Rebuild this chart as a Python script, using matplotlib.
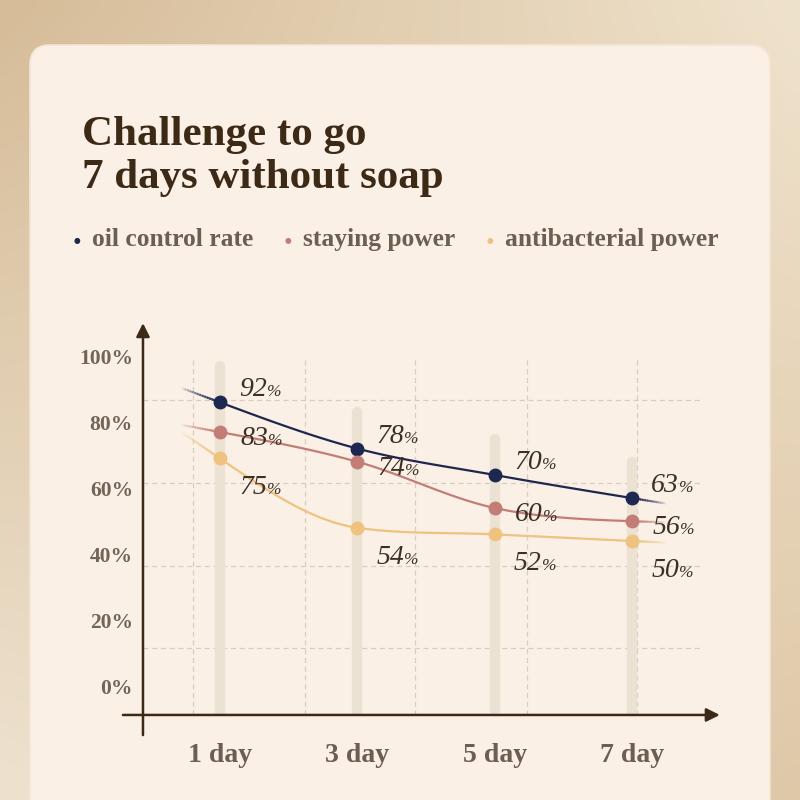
import numpy as np
import matplotlib
matplotlib.use("Agg")
import matplotlib.pyplot as plt
from matplotlib import transforms
from matplotlib.patches import FancyBboxPatch
from matplotlib.collections import LineCollection
from matplotlib.colors import to_rgba

# ---- data ----
days = ["1 day", "3 day", "5 day", "7 day"]
oil_control = [92, 78, 70, 63]
staying_power = [83, 74, 60, 56]
antibacterial = [75, 54, 52, 50]
series_names = ["oil control rate", "staying power", "antibacterial power"]
y_ticks = [0, 20, 40, 60, 80, 100]

# ---- style ----
SERIF = ["Liberation Serif", "DejaVu Serif"]
NAVY = "#1e2750"
ROSE = "#c47d76"
GOLD = "#efc27f"
BROWN = "#3d2a16"
GREY = "#6b5e52"
CARD = "#faf0e6"
PILLAR = "#ece2d4"
GRID = "#d8cdc0"

series = [
    (oil_control, NAVY, (47, -6)),
    (staying_power, ROSE, (48, 13)),
    (antibacterial, GOLD, (47, 36)),
]


def smooth_curve(xs, ys, num=40):
    """cubic hermite through the points with limited tangents (no overshoot)"""
    xs = np.asarray(xs, float)
    ys = np.asarray(ys, float)
    delta = np.diff(ys) / np.diff(xs)
    n = len(xs)
    d = np.zeros(n)
    for k in range(1, n - 1):
        if delta[k - 1] * delta[k] > 0:
            m = 0.5 * (delta[k - 1] + delta[k])
            lim = 3 * min(abs(delta[k - 1]), abs(delta[k]))
            d[k] = np.sign(m) * min(abs(m), lim)
    d[0] = 1.5 * delta[0] - 0.5 * d[1]
    d[-1] = 1.5 * delta[-1] - 0.5 * d[-2]
    xx, yy = [], []
    for k in range(n - 1):
        h = xs[k + 1] - xs[k]
        t = np.linspace(0, 1, num)
        h00 = 2 * t**3 - 3 * t**2 + 1
        h10 = t**3 - 2 * t**2 + t
        h01 = -2 * t**3 + 3 * t**2
        h11 = t**3 - t**2
        xx.append(xs[k] + t * h)
        yy.append(h00 * ys[k] + h10 * h * d[k] + h01 * ys[k + 1] + h11 * h * d[k + 1])
    return np.concatenate(xx), np.concatenate(yy), d[0], d[-1]


def fading_tail(ax, x0, y0, slope, length, color, lw):
    # short line that fades out, drawn away from the end point
    t = np.linspace(0, 1, 16)
    xs = x0 + t * length
    ys = y0 + t * length * slope
    segs = [[(xs[i], ys[i]), (xs[i + 1], ys[i + 1])] for i in range(len(t) - 1)]
    cols = [to_rgba(color, 0.85 * (1 - i / (len(t) - 1)) + 0.05) for i in range(len(t) - 1)]
    ax.add_collection(LineCollection(segs, colors=cols, linewidths=lw, zorder=3, capstyle="round"))


fig = plt.figure(figsize=(8, 8), dpi=100)

# background gradient + card
bg = fig.add_axes([0, 0, 1, 1], zorder=-10)
c_tl = np.array(to_rgba("#d6bc98")[:3])
c_tr = np.array(to_rgba("#efe2cc")[:3])
c_bl = np.array(to_rgba("#eee2cf")[:3])
c_br = np.array(to_rgba("#dfc8a8")[:3])
u = np.linspace(0, 1, 64)[None, :, None]
v = np.linspace(0, 1, 64)[:, None, None]
grad = (1 - v) * ((1 - u) * c_tl + u * c_tr) + v * ((1 - u) * c_bl + u * c_br)
bg.imshow(grad, extent=[0, 1, 0, 1], aspect="auto", interpolation="bicubic")
bg.set_xlim(0, 1)
bg.set_ylim(0, 1)
bg.axis("off")
bg.add_patch(FancyBboxPatch((0.0375, -0.1), 0.925, 1.04375,
                            boxstyle="round,pad=0,rounding_size=0.025",
                            transform=bg.transAxes, facecolor=CARD,
                            edgecolor="#f3e6d6", linewidth=1.2, zorder=2))

# title + legend
fig.text(0.1025, 1 - 145 / 800, "Challenge to go", family=SERIF, fontsize=31,
         fontweight="bold", color=BROWN, va="baseline")
fig.text(0.1025, 1 - 188 / 800, "7 days without soap", family=SERIF, fontsize=31,
         fontweight="bold", color=BROWN, va="baseline")
legend_px = [92, 303, 505]
for name, (_, col, _), px in zip(series_names, series, legend_px):
    fig.text((px - 15) / 800, 1 - 241 / 800, "\u25cf", family=["DejaVu Sans"], fontsize=5.5,
             color=col, va="center", ha="center")
    fig.text(px / 800, 1 - 246 / 800, name, family=SERIF, fontsize=18.4,
             fontweight="bold", color=GREY, va="baseline")

# main chart area
ax = fig.add_axes([0.125, 0.06875, 0.8, 0.55625])
ax.set_xlim(-0.874, 3.787)
ax.set_ylim(-11.8, 123)
ax.axis("off")
ax.patch.set_alpha(0)

x = np.arange(len(days))

# decorative grid
for gy in [17.6, 42.4, 67.6, 92.7]:
    ax.plot([-0.56, 3.52], [gy, gy], color=GRID, lw=0.9, ls=(0, (4, 3)), zorder=0)
for gx in [-0.197, 0.619, 1.42, 2.236, 3.037]:
    ax.plot([gx, gx], [-2.7, 105.5], color=GRID, lw=0.9, ls=(0, (4, 3)), zorder=0)

# pale pillars behind each day
for xi, top in zip(x, oil_control):
    ax.plot([xi, xi], [-1.5, top + 11], color=PILLAR, lw=7.5,
            solid_capstyle="round", zorder=1)

# axes with arrows
ax.annotate("", xy=(-0.561, 116), xytext=(-0.561, -8.8),
            arrowprops=dict(arrowstyle="-|>", color=BROWN, lw=1.8, mutation_scale=20,
                            shrinkA=0, shrinkB=0), annotation_clip=False)
ax.annotate("", xy=(3.64, -2.7), xytext=(-0.707, -2.7),
            arrowprops=dict(arrowstyle="-|>", color=BROWN, lw=1.8, mutation_scale=20,
                            shrinkA=0, shrinkB=0), annotation_clip=False)

# y tick labels (sit a little above their value, like the original)
ytrans = transforms.offset_copy(ax.transData, fig=fig, x=0, y=17, units="dots")
for t in y_ticks:
    ax.text(-0.634, t, f"{t}%", transform=ytrans, family=SERIF, fontsize=15.5,
            fontweight="bold", color="#716558", ha="right", va="center")

# x tick labels
for xi, lab in zip(x, days):
    ax.text(xi, -17.0, lab, family=SERIF, fontsize=20, fontweight="bold",
            color=GREY, ha="center", va="baseline", clip_on=False)

# series
for vals, col, (dx, dy) in series:
    xx, yy, d0, d1 = smooth_curve(x, vals)
    ax.plot(xx, yy, color=col, lw=1.6, zorder=3, solid_capstyle="round")
    fading_tail(ax, x[0], vals[0], d0, -0.27, col, 1.6)
    fading_tail(ax, x[-1], vals[-1], d1, 0.24, col, 1.6)
    ax.plot(x, vals, "o", color=col, ms=9, zorder=4)
    ltrans = transforms.offset_copy(ax.transData, fig=fig, x=dx, y=-dy, units="dots")
    for xi, val in zip(x, vals):
        ax.text(xi, val, f"{val}", transform=ltrans, family=SERIF, fontsize=20,
                style="italic", color="#3b3028", ha="right", va="baseline", zorder=5)
        ax.text(xi, val, "%", transform=ltrans, family=SERIF, fontsize=12.5,
                style="italic", color="#3b3028", ha="left", va="baseline", zorder=5)

fig.savefig("out.png", dpi=100)
